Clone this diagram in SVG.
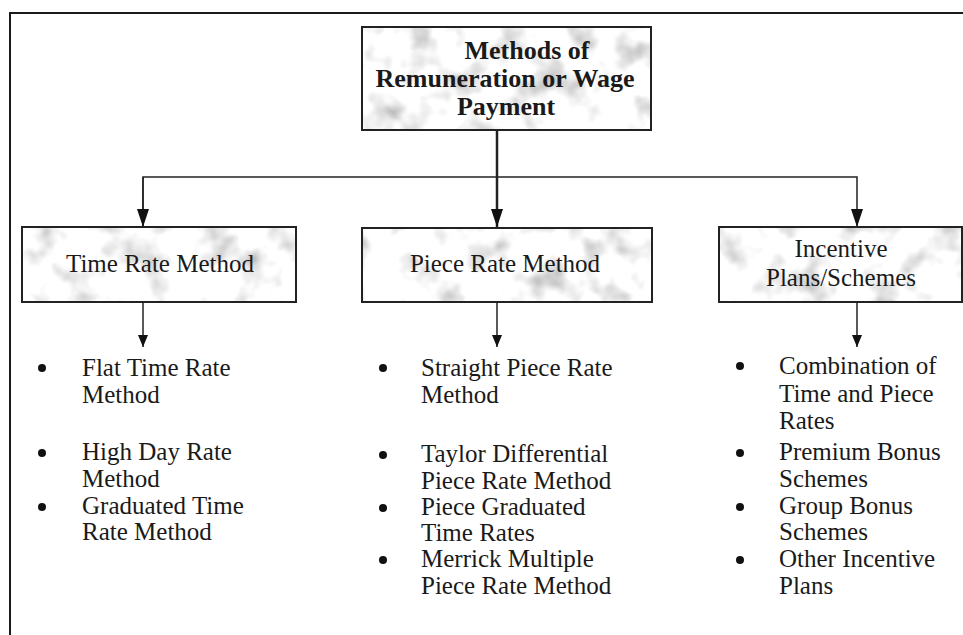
<svg xmlns="http://www.w3.org/2000/svg" width="963" height="635" viewBox="0 0 963 635">
<style>
.frame{stroke:#1a1a1a;stroke-width:2;fill:none}
.box{stroke:#222;stroke-width:2;fill:none}
.fillbox{fill:#ddd;filter:url(#mottle)}
.title{font-family:"Liberation Serif","Times New Roman",serif;font-weight:bold;font-size:26px;fill:#1a1a1a;text-anchor:middle}
.lbl{font-family:"Liberation Serif","Times New Roman",serif;font-size:25px;fill:#1a1a1a;text-anchor:middle}
.item{font-family:"Liberation Serif","Times New Roman",serif;font-size:25px;fill:#1a1a1a}
.bul{fill:#111}
.conn{stroke:#222;stroke-width:1.5;fill:none}
.main{stroke-width:2.5}
</style>
<defs>
<filter id="mottle" x="0" y="0" width="1" height="1">
<feTurbulence type="fractalNoise" baseFrequency="0.03" numOctaves="3" seed="7" result="n"/>
<feColorMatrix in="n" type="matrix" values="1.4 0 0 0 0.3  1.4 0 0 0 0.3  1.4 0 0 0 0.3  0 0 0 0 1" result="g"/>
<feComposite in="g" in2="SourceGraphic" operator="in"/>
</filter>
<marker id="big" viewBox="0 0 18 12" refX="18" refY="6" markerWidth="18" markerHeight="12" markerUnits="userSpaceOnUse" orient="auto">
<path d="M0,0 L18,6 L0,12 z" fill="#111"/>
</marker>
<marker id="small" viewBox="0 0 12 10" refX="12" refY="5" markerWidth="12" markerHeight="10" markerUnits="userSpaceOnUse" orient="auto">
<path d="M0,0 L12,5 L0,10 z" fill="#111"/>
</marker>
</defs>
<rect width="963" height="635" fill="#fff"/>
<path class="frame" d="M10,635 L10,13 L963,13"/>

<g id="connectors">
<path class="conn main" d="M497,130 L497,227" marker-end="url(#big)"/>
<path class="conn" d="M143,227 L143,177 L857,177 L857,227" marker-end="url(#big)"/>
<path class="conn" d="M143,177 L143,227" marker-end="url(#big)"/>
<path class="conn" d="M143,302 L143,347" marker-end="url(#small)"/>
<path class="conn" d="M497,302 L497,347" marker-end="url(#small)"/>
<path class="conn" d="M857,302 L857,347" marker-end="url(#small)"/>
</g>

<g id="root">
<rect class="fillbox" x="362" y="27" width="289" height="103"/>
<rect class="box" x="362" y="27" width="289" height="103"/>
<text class="title" x="527" y="59">Methods of</text>
<text class="title" x="505" y="87">Remuneration or Wage</text>
<text class="title" x="506" y="115">Payment</text>
</g>

<g id="time">
<rect class="fillbox" x="22" y="227" width="274" height="75"/>
<rect class="box" x="22" y="227" width="274" height="75"/>
<text class="lbl" x="160" y="272">Time Rate Method</text>
</g>

<g id="piece">
<rect class="fillbox" x="362" y="228" width="290" height="74"/>
<rect class="box" x="362" y="228" width="290" height="74"/>
<text class="lbl" x="505" y="272">Piece Rate Method</text>
</g>

<g id="incentive">
<rect class="fillbox" x="719" y="227" width="243" height="75"/>
<rect class="box" x="719" y="227" width="243" height="75"/>
<text class="lbl" x="841" y="257">Incentive</text>
<text class="lbl" x="841" y="286">Plans/Schemes</text>
</g>

<g id="time-list">
<circle class="bul" cx="42" cy="368" r="4"/>
<text class="item" x="82" y="376">Flat Time Rate</text>
<text class="item" x="82" y="403">Method</text>
<circle class="bul" cx="42" cy="453" r="4"/>
<text class="item" x="82" y="460">High Day Rate</text>
<text class="item" x="82" y="487">Method</text>
<circle class="bul" cx="42" cy="507" r="4"/>
<text class="item" x="82" y="514">Graduated Time</text>
<text class="item" x="82" y="540">Rate Method</text>
</g>

<g id="piece-list">
<circle class="bul" cx="383" cy="368" r="4"/>
<text class="item" x="421" y="376">Straight Piece Rate</text>
<text class="item" x="421" y="403">Method</text>
<circle class="bul" cx="383" cy="455" r="4"/>
<text class="item" x="421" y="462">Taylor Differential</text>
<text class="item" x="421" y="489">Piece Rate Method</text>
<circle class="bul" cx="383" cy="508" r="4"/>
<text class="item" x="421" y="515">Piece Graduated</text>
<text class="item" x="421" y="541">Time Rates</text>
<circle class="bul" cx="383" cy="560" r="4"/>
<text class="item" x="421" y="567">Merrick Multiple</text>
<text class="item" x="421" y="594">Piece Rate Method</text>
</g>

<g id="incentive-list">
<circle class="bul" cx="740" cy="366" r="4"/>
<text class="item" x="779" y="374">Combination of</text>
<text class="item" x="779" y="402">Time and Piece</text>
<text class="item" x="779" y="429">Rates</text>
<circle class="bul" cx="740" cy="453" r="4"/>
<text class="item" x="779" y="460">Premium Bonus</text>
<text class="item" x="779" y="487">Schemes</text>
<circle class="bul" cx="740" cy="507" r="4"/>
<text class="item" x="779" y="514">Group Bonus</text>
<text class="item" x="779" y="540">Schemes</text>
<circle class="bul" cx="740" cy="560" r="4"/>
<text class="item" x="779" y="567">Other Incentive</text>
<text class="item" x="779" y="594">Plans</text>
</g>
</svg>
